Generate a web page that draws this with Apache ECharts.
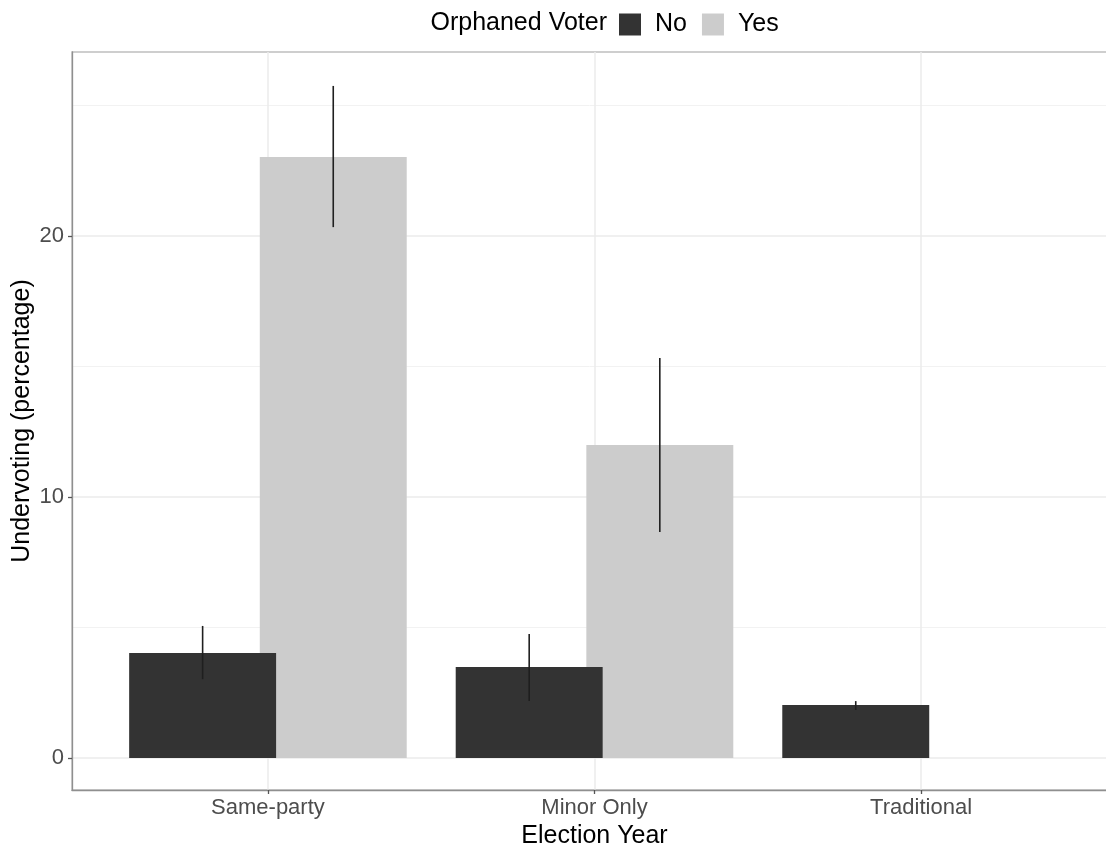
<!DOCTYPE html>
<html>
<head>
<meta charset="utf-8">
<title>Undervoting by election type</title>
<script src="https://cdn.jsdelivr.net/npm/echarts@6/dist/echarts.min.js"></script>
<style>
  html, body { margin: 0; padding: 0; background: #ffffff; }
  #chart { width: 1106px; height: 848px; }
</style>
</head>
<body>
<div id="chart"></div>
<script>
// Election types along the x axis
const categories = ['Same-party', 'Minor Only', 'Traditional'];
const groups = ['No', 'Yes'];

// Mean undervoting (%) with error-bar bounds, orphaned voter = No
const noValues = [4.02, 3.49, 2.03];
const noLower = [3.02, 2.18, 1.84];
const noUpper = [5.06, 4.75, 2.18];

// Mean undervoting (%) with error-bar bounds, orphaned voter = Yes
const yesValues = [23.03, 11.99, null];
const yesLower = [20.34, 8.66, null];
const yesUpper = [25.75, 15.33, null];

// Axis ticks
const yTicks = [0, 10, 20];
const yMinorTicks = [5, 15, 25];
const xTicks = [1, 2, 3];

const FONT = '"Liberation Sans", Arial, sans-serif';
const DODGE = 0.4;      // distance between group centres
const BAR_W = 0.45;     // bar width in category units
const COLORS = { No: '#333333', Yes: '#CCCCCC' };

function barData(values) {
  return values
    .map((v, i) => [i + 1, v])
    .filter(d => d[1] !== null);
}
function errData(lo, hi) {
  return lo
    .map((v, i) => [i + 1, v, hi[i]])
    .filter(d => d[1] !== null);
}

function barRenderer(offset, color) {
  return function (params, api) {
    const x = api.value(0) + offset;
    const v = api.value(1);
    const p0 = api.coord([x - BAR_W / 2, v]);
    const p1 = api.coord([x + BAR_W / 2, 0]);
    return {
      type: 'rect',
      shape: { x: p0[0], y: p0[1], width: p1[0] - p0[0], height: p1[1] - p0[1] },
      style: { fill: color }
    };
  };
}
function errRenderer(offset) {
  return function (params, api) {
    const x = api.value(0) + offset;
    const a = api.coord([x, api.value(1)]);
    const b = api.coord([x, api.value(2)]);
    return {
      type: 'line',
      shape: { x1: a[0], y1: a[1], x2: b[0], y2: b[1] },
      style: { stroke: '#1f1f1f', lineWidth: 1.6 }
    };
  };
}

const yMin = -1.226, yMax = 27.05;

const chart = echarts.init(document.getElementById('chart'), null, { renderer: 'canvas' });

chart.setOption({
  animation: false,
  backgroundColor: '#ffffff',
  textStyle: { fontFamily: FONT },
  grid: {
    left: 72, top: 52, width: 1045, height: 738,
    containLabel: false,
    outerBoundsMode: 'none',
    show: true, borderColor: '#BEBEBE', borderWidth: 1.5, backgroundColor: 'transparent'
  },
  graphic: [{
    type: 'text',
    x: 607, y: 23,
    style: {
      text: 'Orphaned Voter', fontFamily: FONT, fontSize: 25, fill: '#000000',
      align: 'right', verticalAlign: 'middle'
    }
  }],
  legend: {
    data: groups,
    left: 614, top: 7,
    icon: 'rect',
    itemWidth: 22, itemHeight: 22,
    itemGap: 15,
    textStyle: { fontFamily: FONT, fontSize: 25, color: '#000000', padding: [0, 0, 0, 9] }
  },
  xAxis: {
    type: 'value',
    min: 0.4, max: 3.6,
    name: 'Election Year',
    nameLocation: 'middle',
    nameGap: 27,
    nameTextStyle: { fontFamily: FONT, fontSize: 25, color: '#000000' },
    axisLine: { show: true, onZero: false, lineStyle: { color: '#8F8F8F', width: 1.3 } },
    axisTick: { show: true, length: 4, customValues: xTicks, lineStyle: { color: '#555555', width: 1.3 } },
    axisLabel: {
      customValues: xTicks, margin: 7,
      fontFamily: FONT, fontSize: 22, color: '#4D4D4D',
      formatter: v => categories[Math.round(v) - 1]
    },
    splitLine: { show: true, lineStyle: { color: '#EBEBEB', width: 1.5 } }
  },
  yAxis: [{
    type: 'value',
    min: yMin, max: yMax,
    name: 'Undervoting (percentage)',
    nameLocation: 'middle',
    nameGap: 37,
    nameMoveOverlap: false,
    nameTextStyle: { fontFamily: FONT, fontSize: 25, color: '#000000' },
    axisLine: { show: true, onZero: false, lineStyle: { color: '#8F8F8F', width: 1.3 } },
    axisTick: { show: true, length: 4, customValues: yTicks, lineStyle: { color: '#555555', width: 1.3 } },
    axisLabel: { customValues: yTicks, margin: 8, fontFamily: FONT, fontSize: 22, color: '#4D4D4D' },
    splitLine: { show: true, lineStyle: { color: '#EBEBEB', width: 1.5 } }
  }, {
    type: 'value',
    min: yMin, max: yMax,
    position: 'left',
    axisLine: { show: false },
    axisTick: { show: false, customValues: yMinorTicks },
    axisLabel: { show: false, customValues: yMinorTicks },
    splitLine: { show: true, lineStyle: { color: '#F2F2F2', width: 1 } }
  }],
  series: [{
    name: 'Yes',
    type: 'custom',
    z: 2,
    itemStyle: { color: COLORS.Yes },
    renderItem: barRenderer(DODGE / 2, COLORS.Yes),
    encode: { x: 0, y: 1 },
    data: barData(yesValues)
  }, {
    name: 'No',
    type: 'custom',
    z: 3,
    itemStyle: { color: COLORS.No },
    renderItem: barRenderer(-DODGE / 2, COLORS.No),
    encode: { x: 0, y: 1 },
    data: barData(noValues)
  }, {
    name: 'Yes error',
    type: 'custom',
    z: 4,
    renderItem: errRenderer(DODGE / 2),
    encode: { x: 0, y: [1, 2] },
    data: errData(yesLower, yesUpper)
  }, {
    name: 'No error',
    type: 'custom',
    z: 4,
    renderItem: errRenderer(-DODGE / 2),
    encode: { x: 0, y: [1, 2] },
    data: errData(noLower, noUpper)
  }]
});
</script>
</body>
</html>
